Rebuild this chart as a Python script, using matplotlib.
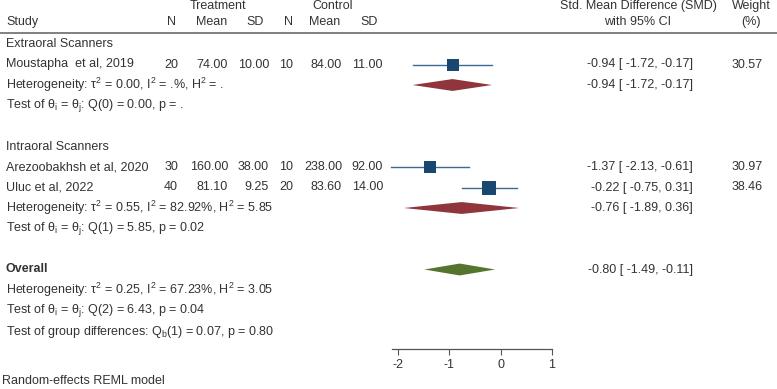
import matplotlib
matplotlib.use('Agg')
import numpy as np
from matplotlib import pyplot as plt
from matplotlib.transforms import blended_transform_factory

# Study-level data
studies = ['Moustapha  et al, 2019', 'Arezoobakhsh et al, 2020', 'Uluc et al, 2022']
groups = [0, 1, 1]
n_treat = [20, 30, 40]
mean_treat = [74.00, 160.00, 81.10]
sd_treat = [10.00, 38.00, 9.25]
n_ctrl = [10, 10, 20]
mean_ctrl = [84.00, 238.00, 83.60]
sd_ctrl = [11.00, 92.00, 14.00]
smd = [-0.94, -1.37, -0.22]
smd_lo = [-1.72, -2.13, -0.75]
smd_hi = [-0.17, -0.61, 0.31]
weights = [30.57, 30.97, 38.46]

# Subgroup / overall summaries
group_names = ['Extraoral Scanners', 'Intraoral Scanners']
group_est = [-0.94, -0.76]
group_lo = [-1.72, -1.89]
group_hi = [-0.17, 0.36]
group_het = ['Heterogeneity: τ$^2$ = 0.00, I$^2$ = .%, H$^2$ = .',
             'Heterogeneity: τ$^2$ = 0.55, I$^2$ = 82.92%, H$^2$ = 5.85']
group_test = ['Test of θ$_\\mathregular{i}$ = θ$_\\mathregular{j}$: Q(0) = 0.00, p = .',
              'Test of θ$_\\mathregular{i}$ = θ$_\\mathregular{j}$: Q(1) = 5.85, p = 0.02']
overall_est = -0.80
overall_lo = -1.49
overall_hi = -0.11
overall_het = 'Heterogeneity: τ$^2$ = 0.25, I$^2$ = 67.23%, H$^2$ = 3.05'
overall_test = 'Test of θ$_\\mathregular{i}$ = θ$_\\mathregular{j}$: Q(2) = 6.43, p = 0.04'
group_diff = 'Test of group differences: Q$_\\mathregular{b}$(1) = 0.07, p = 0.80'
x_ticks = [-2, -1, 0, 1]

BLUE = '#1a476f'
RED = '#90353b'
GREEN = '#55752f'
TXT = '#333333'
W, H = 777, 389


def ci_text(est, lo, hi):
    return '%.2f [ %.2f, %.2f]' % (est, lo, hi)


def diamond(ax, est, lo, hi, y, color, half=0.29):
    ax.fill([lo, est, hi, est], [y, y - half, y, y + half], color=color, lw=0)


def main():
    plt.rcParams['font.family'] = ['Liberation Sans', 'DejaVu Sans']
    plt.rcParams['mathtext.fontset'] = 'custom'
    plt.rcParams['mathtext.rm'] = 'Liberation Sans'
    plt.rcParams['mathtext.it'] = 'Liberation Sans:italic'
    plt.rcParams['font.size'] = 9
    plt.rcParams['text.color'] = TXT

    fig = plt.figure(figsize=(W / 100, H / 100), dpi=100)
    # Forest panel: axis line spans px 392..552, rows from top to px 349
    row0, step = 44.0, 20.5
    ax = fig.add_axes([392 / W, 1 - 349 / H, 160 / W, 349 / H])
    ax.set_xlim(-2.12, 1.0)
    ax.set_ylim((349 - row0) / step, -row0 / step)
    for s in ['top', 'right', 'left']:
        ax.spines[s].set_visible(False)
    ax.spines['bottom'].set_color('#555555')
    ax.spines['bottom'].set_linewidth(0.9)
    ax.set_yticks([])
    ax.set_xticks(x_ticks)
    ax.set_xticklabels([str(t) for t in x_ticks])
    ax.tick_params(axis='x', length=4, width=0.8, color='#555555', labelcolor=TXT, pad=3)

    tr = blended_transform_factory(fig.transFigure, ax.transData)

    def put(xpx, y, s, ha='left', **kw):
        ax.text(xpx / W, y, s, transform=tr, ha=ha, va='center', clip_on=False, **kw)

    # Header
    put(218, -1.83, 'Treatment', ha='center')
    put(333, -1.83, 'Control', ha='center')
    put(638, -1.83, 'Std. Mean Difference (SMD)', ha='center')
    put(751, -1.83, 'Weight', ha='center')
    put(6, -1.07, 'Study')
    for xpx, lab in zip([176, 227, 264, 293, 340, 378], ['N', 'Mean', 'SD', 'N', 'Mean', 'SD']):
        put(xpx, -1.07, lab, ha='right')
    put(638, -1.07, 'with 95% CI', ha='center')
    put(751, -1.07, '(%)', ha='center')
    ax.plot([0, 1], [-0.56, -0.56], transform=tr, color='#808080', lw=1.4, clip_on=False)

    # Rows
    row = 0
    for g, name in enumerate(group_names):
        put(6, row, name)
        row += 1
        for i in range(len(studies)):
            if groups[i] != g:
                continue
            put(6, row, studies[i])
            put(178, row, '%d' % n_treat[i], ha='right')
            put(228, row, '%.2f' % mean_treat[i], ha='right')
            put(269, row, '%.2f' % sd_treat[i], ha='right')
            put(293, row, '%d' % n_ctrl[i], ha='right')
            put(342, row, '%.2f' % mean_ctrl[i], ha='right')
            put(383, row, '%.2f' % sd_ctrl[i], ha='right')
            put(693, row, ci_text(smd[i], smd_lo[i], smd_hi[i]), ha='right')
            put(763, row, '%.2f' % weights[i], ha='right')
            ax.plot([smd_lo[i], smd_hi[i]], [row, row], color='#3c6a98', lw=1.0, clip_on=False)
            side = 14.0 * weights[i] / max(weights) * 0.72
            ax.scatter([smd[i]], [row], marker='s', s=side ** 2, color=BLUE, lw=0,
                       zorder=3, clip_on=False)
            row += 1
        put(6, row, group_het[g])
        diamond(ax, group_est[g], group_lo[g], group_hi[g], row, RED)
        put(693, row, ci_text(group_est[g], group_lo[g], group_hi[g]), ha='right')
        row += 1
        put(6, row, group_test[g])
        row += 2

    put(6, row, 'Overall', fontweight='bold')
    diamond(ax, overall_est, overall_lo, overall_hi, row, GREEN)
    put(693, row, ci_text(overall_est, overall_lo, overall_hi), ha='right')
    row += 1
    put(6, row, overall_het)
    row += 1
    put(6, row, overall_test)
    row += 1.05
    put(6, row, group_diff)

    fig.text(2 / W, 1 - 381 / H, 'Random-effects REML model', ha='left', va='center')

    fig.savefig('out.png', dpi=100)


if __name__ == '__main__':
    main()
